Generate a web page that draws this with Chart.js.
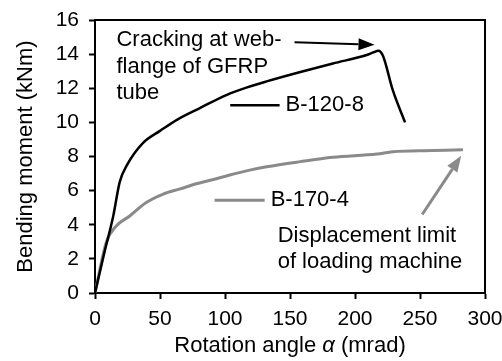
<!DOCTYPE html>
<html>
<head>
<meta charset="utf-8">
<script src="https://cdn.jsdelivr.net/npm/chart.js@4.4.1/dist/chart.umd.min.js"></script>
<style>
  html, body { margin: 0; padding: 0; background: #fff; }
  #wrap { width: 502px; height: 361px; }
</style>
</head>
<body>
<div id="wrap"><canvas id="momentChart" width="502" height="361"></canvas></div>
<script>
// Data (rotation in mrad, moment in kNm)
const b120Rot = [0, 7, 14, 19, 25, 37, 50, 63, 81, 101, 117, 132, 158, 183, 209, 214, 218, 221.5, 229, 238.5];
const b120Mom = [0, 2.3, 4.5, 6.5, 7.55, 8.8, 9.5, 10.15, 10.85, 11.6, 12.05, 12.4, 12.95, 13.45, 13.95, 14.1, 14.2, 13.9, 11.9, 10.0];

const b170Rot = [0, 8.6, 16, 26.5, 39.4, 52.5, 65.4, 78, 91, 103, 119, 132, 158, 183, 217, 229, 260, 283];
const b170Mom = [0, 2.95, 3.9, 4.5, 5.3, 5.8, 6.1, 6.4, 6.65, 6.9, 7.2, 7.4, 7.7, 7.95, 8.15, 8.28, 8.35, 8.4];

const seriesNames = ['B-120-8', 'B-170-4'];
const xTicks = [0, 50, 100, 150, 200, 250, 300];
const yTicks = [0, 2, 4, 6, 8, 10, 12, 14, 16];

const FONT = "'Liberation Sans', Arial, sans-serif";
const BLACK = '#000';
const GREY = '#8a8a8a';

function toPoints(xs, ys) {
  return xs.map((x, i) => ({ x: x, y: ys[i] }));
}

// annotations placed in data units
const notes = [
  { text: 'Cracking at web-', x: 16.5, y: 14.84, color: BLACK },
  { text: 'flange of GFRP', x: 16.5, y: 13.25, color: BLACK },
  { text: 'tube', x: 16.5, y: 11.75, color: BLACK },
  { text: 'Displacement limit', x: 140.5, y: 3.33, color: BLACK },
  { text: 'of loading machine', x: 140.5, y: 1.84, color: BLACK }
];
const keys = [
  { name: seriesNames[0], x0: 104, x1: 142, y: 11.0, color: BLACK, width: 2.5 },
  { name: seriesNames[1], x0: 92, x1: 130.5, y: 5.43, color: GREY, width: 3 }
];
const arrows = [
  { from: [153.5, 14.7], to: [215, 14.55], color: BLACK, width: 2 },
  { from: [251.7, 4.6], to: [281.7, 8.04], color: GREY, width: 3 }
];

function drawArrow(ctx, x0, y0, x1, y1, color, width) {
  const ang = Math.atan2(y1 - y0, x1 - x0);
  const len = 16, half = 6;
  const bx = x1 - Math.cos(ang) * len, by = y1 - Math.sin(ang) * len;
  ctx.strokeStyle = color;
  ctx.fillStyle = color;
  ctx.lineWidth = width;
  ctx.beginPath();
  ctx.moveTo(x0, y0);
  ctx.lineTo(bx, by);
  ctx.stroke();
  ctx.beginPath();
  ctx.moveTo(x1, y1);
  ctx.lineTo(bx + Math.sin(ang) * half, by - Math.cos(ang) * half);
  ctx.lineTo(bx - Math.sin(ang) * half, by + Math.cos(ang) * half);
  ctx.closePath();
  ctx.fill();
}

const extras = {
  id: 'extras',
  afterDraw(chart) {
    const ctx = chart.ctx;
    const xs = chart.scales.x, ys = chart.scales.y;
    const a = chart.chartArea;
    ctx.save();

    // box frame (top and right)
    ctx.strokeStyle = BLACK;
    ctx.lineWidth = 2;
    ctx.beginPath();
    ctx.moveTo(a.left, a.top);
    ctx.lineTo(a.right, a.top);
    ctx.lineTo(a.right, a.bottom);
    ctx.stroke();

    ctx.font = '22px ' + FONT;
    ctx.textBaseline = 'middle';
    ctx.textAlign = 'left';
    notes.forEach(n => {
      ctx.fillStyle = n.color;
      ctx.fillText(n.text, xs.getPixelForValue(n.x), ys.getPixelForValue(n.y));
    });

    keys.forEach(k => {
      const y = ys.getPixelForValue(k.y);
      const x0 = xs.getPixelForValue(k.x0), x1 = xs.getPixelForValue(k.x1);
      ctx.strokeStyle = k.color;
      ctx.lineWidth = k.width;
      ctx.beginPath();
      ctx.moveTo(x0, y);
      ctx.lineTo(x1, y);
      ctx.stroke();
      ctx.fillStyle = BLACK;
      ctx.fillText(k.name, x1 + 6, y);
    });

    arrows.forEach(r => {
      drawArrow(ctx,
        xs.getPixelForValue(r.from[0]), ys.getPixelForValue(r.from[1]),
        xs.getPixelForValue(r.to[0]), ys.getPixelForValue(r.to[1]),
        r.color, r.width);
    });

    // x title with italic alpha
    const parts = [
      { t: 'Rotation angle ', f: '22px ' + FONT },
      { t: '\u03b1', f: 'italic 22px ' + FONT },
      { t: ' (mrad)', f: '22px ' + FONT }
    ];
    let total = 0;
    parts.forEach(p => { ctx.font = p.f; p.w = ctx.measureText(p.t).width; total += p.w; });
    let cx = (a.left + a.right) / 2 - total / 2;
    ctx.fillStyle = BLACK;
    parts.forEach(p => { ctx.font = p.f; ctx.fillText(p.t, cx, 346); cx += p.w; });

    // y title
    ctx.font = '22px ' + FONT;
    ctx.translate(26, (a.top + a.bottom) / 2);
    ctx.rotate(-Math.PI / 2);
    ctx.textAlign = 'center';
    ctx.fillText('Bending moment (kNm)', 0, 0);
    ctx.restore();
  }
};

Chart.defaults.font.family = FONT;
Chart.defaults.color = BLACK;

const ctx = document.getElementById('momentChart').getContext('2d');
const momentChart = new Chart(ctx, {
  type: 'scatter',
  data: {
    datasets: [{
      label: seriesNames[0],
      data: toPoints(b120Rot, b120Mom),
      showLine: true,
      borderColor: BLACK,
      borderWidth: 2.5,
      pointRadius: 0,
      cubicInterpolationMode: 'monotone'
    }, {
      label: seriesNames[1],
      data: toPoints(b170Rot, b170Mom),
      showLine: true,
      borderColor: GREY,
      borderWidth: 3,
      pointRadius: 0,
      cubicInterpolationMode: 'monotone'
    }]
  },
  options: {
    responsive: false,
    animation: false,
    layout: { padding: { top: 20, right: 17, left: 0, bottom: 0 } },
    plugins: { legend: { display: false }, tooltip: { enabled: false } },
    scales: {
      x: {
        type: 'linear',
        min: xTicks[0],
        max: xTicks[xTicks.length - 1],
        afterBuildTicks: s => { s.ticks = xTicks.map(v => ({ value: v })); },
        afterFit: s => { s.height = 68; s.paddingLeft = 0; s.paddingRight = 0; },
        ticks: { font: { size: 21 }, color: BLACK, padding: 8, maxRotation: 0 },
        grid: { drawOnChartArea: false, tickLength: 6, tickColor: BLACK, tickWidth: 2 },
        border: { color: BLACK, width: 2 }
      },
      y: {
        type: 'linear',
        min: yTicks[0],
        max: yTicks[yTicks.length - 1],
        afterBuildTicks: s => { s.ticks = yTicks.map(v => ({ value: v })); },
        afterFit: s => { s.width = 95; s.paddingTop = 0; s.paddingBottom = 0; },
        ticks: { font: { size: 21 }, color: BLACK, padding: 10 },
        grid: { drawOnChartArea: false, tickLength: 6, tickColor: BLACK, tickWidth: 2 },
        border: { color: BLACK, width: 2 }
      }
    }
  },
  plugins: [extras]
});
</script>
</body>
</html>
